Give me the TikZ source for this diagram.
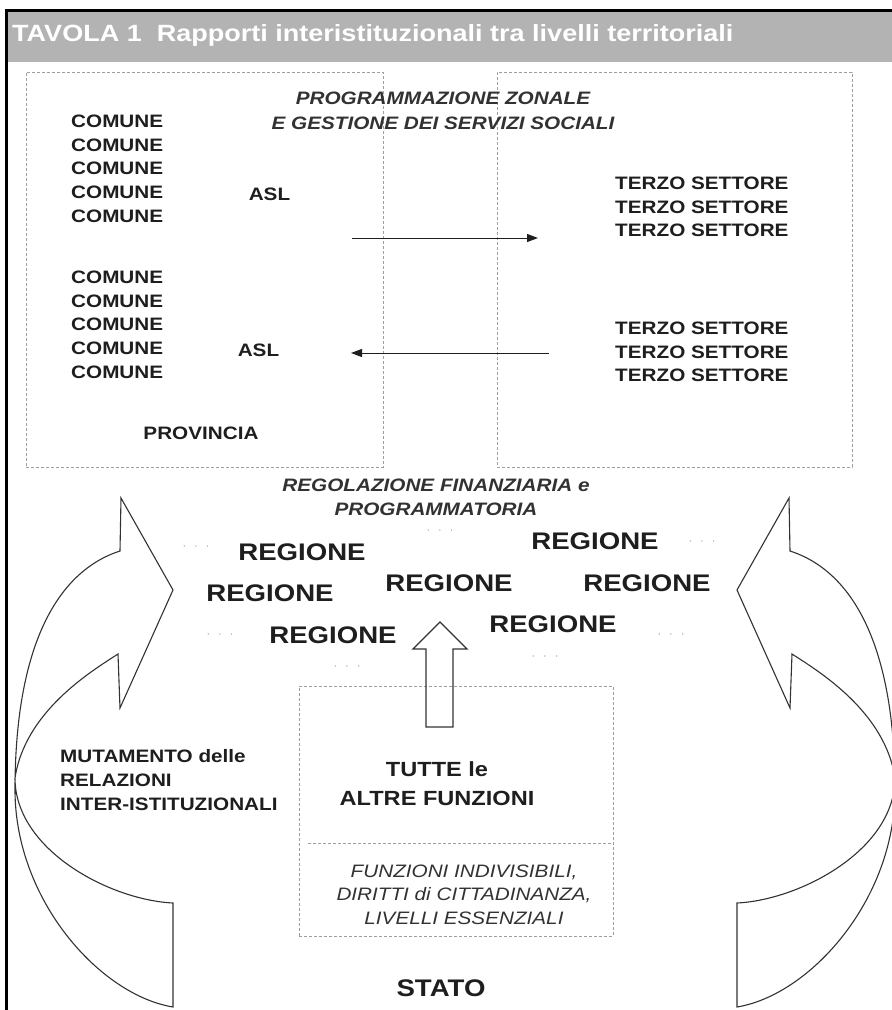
\documentclass[tikz,border=0pt]{standalone}
\usepackage{fontspec}
\setmainfont{Liberation Sans}
\newfontfamily\wide[FakeStretch=1.15]{Liberation Sans}
\usetikzlibrary{arrows.meta}
\definecolor{bargray}{RGB}{179,179,179}
\definecolor{ink}{RGB}{30,30,30}
\definecolor{softink}{RGB}{50,50,50}

\begin{document}
\begin{tikzpicture}[x=1pt, y=-1pt,
  zone/.style={draw=gray!75, dash pattern=on 3pt off 2pt, line width=0.8pt},
  lbl/.style={inner sep=0pt, text=ink, font=\wide\bfseries\fontsize{18}{23.7}\selectfont},
  ital/.style={inner sep=0pt, text=softink, align=center, font=\wide\bfseries\itshape\fontsize{18}{24.5}\selectfont},
  reg/.style={inner sep=0pt, text=ink, font=\wide\bfseries\fontsize{24}{28}\selectfont},
  dts/.style={inner sep=0pt, text=gray!80, font=\fontsize{11}{11}\selectfont},
  arr/.style={-{Triangle[length=11pt,width=8pt]}, line width=1pt, ink},
  bigarr/.style={draw=softink, line width=1.1pt, line join=miter},
]
\useasboundingbox (0,0) rectangle (892,1010);

% frame and title bar
\fill[bargray] (7,11) rectangle (892,62);
\draw[line width=2.5pt] (6.5,1012) -- (6.5,10.5) -- (892,10.5);
\node[anchor=west, inner sep=0pt, text=white, font=\wide\bfseries\fontsize{23.5}{26}\selectfont]
  (title) at (12,35.5) {TAVOLA 1\ \ Rapporti interistituzionali tra livelli territoriali};

% curved arrows, left one and its mirror image
\draw[bigarr] (173,1007) .. controls (100,995) and (15,900) .. (15,790)
  .. controls (15,650) and (55,572) .. (120,551) -- (121,498) -- (173,590) -- (120,708) -- (118,654)
  .. controls (90,672) and (25,712) .. (15,778) .. controls (15,850) and (110,900) .. (173,903) -- cycle;
\begin{scope}[xshift=910, xscale=-1]
\draw[bigarr] (173,1007) .. controls (100,995) and (15,900) .. (15,790)
  .. controls (15,650) and (55,572) .. (120,551) -- (121,498) -- (173,590) -- (120,708) -- (118,654)
  .. controls (90,672) and (25,712) .. (15,778) .. controls (15,850) and (110,900) .. (173,903) -- cycle;
\end{scope}

% zones
\node[zone, minimum width=357pt, minimum height=395pt] (pbox) at (204.5,269.5) {};
\node[zone, minimum width=355pt, minimum height=395pt] (tbox) at (674.5,269.5) {};
\node[zone, minimum width=314pt, minimum height=250pt] (sbox) at (456,811) {};
\draw[zone] (308,843) -- (613,843);

\node[lbl, anchor=west, align=left] (com1) at (71,168.5) {COMUNE\\COMUNE\\COMUNE\\COMUNE\\COMUNE};
\node[lbl, anchor=west, align=left] (com2) at (71,324.5) {COMUNE\\COMUNE\\COMUNE\\COMUNE\\COMUNE};
\node[lbl] (asl1) at (269.5,194) {ASL};
\node[lbl] (asl2) at (258.5,350) {ASL};
\node[lbl] (prv) at (201,433) {PROVINCIA};
\node[lbl, anchor=west, align=left] (ts1) at (615,207) {TERZO SETTORE\\TERZO SETTORE\\TERZO SETTORE};
\node[lbl, anchor=west, align=left] (ts2) at (615,352) {TERZO SETTORE\\TERZO SETTORE\\TERZO SETTORE};
\node[ital] (pz) at (443,111) {PROGRAMMAZIONE ZONALE\\E GESTIONE DEI SERVIZI SOCIALI};

\coordinate (a1s) at (352,238);
\coordinate (a1e) at (538,238);
\coordinate (a2s) at (549,353);
\coordinate (a2e) at (351,353);
\draw[arr] (a1s) -- (a1e);
\draw[arr] (a2s) -- (a2e);

% regions
\node[ital] (rf) at (436,497.5) {REGOLAZIONE FINANZIARIA e\\PROGRAMMATORIA};
\node[reg] (r1) at (302,552) {REGIONE};
\node[reg] (r2) at (270,593) {REGIONE};
\node[reg] (r3) at (333,635) {REGIONE};
\node[reg] (r4) at (449,583) {REGIONE};
\node[reg] (r5) at (595,541) {REGIONE};
\node[reg] (r6) at (647,583) {REGIONE};
\node[reg] (r7) at (553,624) {REGIONE};
\node[dts] (d1) at (196,548) {·\hspace{8pt}·\hspace{8pt}·};
\node[dts] (d2) at (220,636) {·\hspace{8pt}·\hspace{8pt}·};
\node[dts] (d3) at (440,532) {·\hspace{8pt}·\hspace{8pt}·};
\node[dts] (d4) at (347,668) {·\hspace{8pt}·\hspace{8pt}·};
\node[dts] (d5) at (702,543) {·\hspace{8pt}·\hspace{8pt}·};
\node[dts] (d6) at (671,636) {·\hspace{8pt}·\hspace{8pt}·};
\node[dts] (d7) at (545,658) {·\hspace{8pt}·\hspace{8pt}·};

% up arrow from the state
\draw[bigarr] (426,727) -- (426,649) -- (413,649) -- (440,622) -- (467,649) -- (453,649) -- (453,727) -- cycle;

\node[lbl, anchor=west, align=left] (mut) at (60,780) {MUTAMENTO delle\\RELAZIONI\\INTER-ISTITUZIONALI};
\node[lbl, align=center, font=\wide\bfseries\fontsize{20.5}{29}\selectfont] (tutte) at (437,783.5) {TUTTE le\\ALTRE FUNZIONI};
\node[ital, font=\wide\itshape\fontsize{18}{23.5}\selectfont] (ind) at (464,894.5) {FUNZIONI INDIVISIBILI,\\DIRITTI di CITTADINANZA,\\LIVELLI ESSENZIALI};
\node[reg] (stato) at (441,988) {STATO};
\end{tikzpicture}
\end{document}
